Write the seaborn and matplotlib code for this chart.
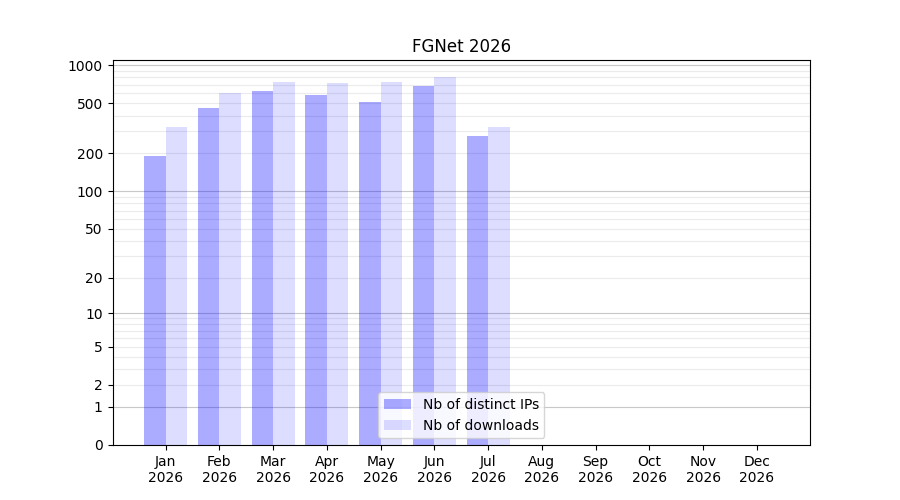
import numpy as np
import pandas as pd
import seaborn as sns
import matplotlib
matplotlib.use("Agg")
import matplotlib.pyplot as plt

# data
months = ["Jan", "Feb", "Mar", "Apr", "May", "Jun", "Jul", "Aug", "Sep", "Oct", "Nov", "Dec"]
year = "2026"
distinct_ips = [191, 459, 625, 582, 512, 685, 276, 0, 0, 0, 0, 0]
downloads = [325, 603, 736, 723, 736, 800, 325, 0, 0, 0, 0, 0]
series_names = ["Nb of distinct IPs", "Nb of downloads"]
ytick_values = [0, 1, 2, 5, 10, 20, 50, 100, 200, 500, 1000]

labels = [m + "\n" + year for m in months]
df = pd.DataFrame({
    "month": labels * 2,
    "value": distinct_ips + downloads,
    "series": [series_names[0]] * 12 + [series_names[1]] * 12,
})

sns.set_style("white")
plt.rcParams["font.family"] = ["DejaVu Sans"]
plt.rcParams["text.color"] = "black"
plt.rcParams["axes.labelcolor"] = "black"
plt.rcParams["xtick.color"] = "black"
plt.rcParams["ytick.color"] = "black"

fig, ax = plt.subplots(figsize=(9, 5), dpi=100)

ax.set_yscale("function", functions=(lambda x: np.log10(1 + np.clip(x, 0, None)),
                                     lambda y: 10 ** y - 1))

sns.barplot(data=df, x="month", y="value", hue="series", palette=["blue", "blue"],
            width=0.8, saturation=1, legend=False, ax=ax, zorder=2)

for cont, a in zip(ax.containers, [0.33, 0.135]):
    for p in cont.patches:
        p.set_alpha(a)
        p.set_edgecolor("none")

# grid: decades darker, the rest lighter
for dec in [1, 10, 100]:
    for k in range(2, 10):
        ax.axhline(dec * k, color="#ebebeb", lw=0.8, zorder=1)
for dec in [1, 10, 100, 1000]:
    ax.axhline(dec, color="#c8c8c8", lw=0.8, zorder=1)

ax.set_ylim(0, 1100)
ax.set_xlim(-0.99, 11.99)
ax.set_yticks(ytick_values)
ax.set_yticklabels([str(v) for v in ytick_values])
ax.yaxis.set_minor_locator(matplotlib.ticker.NullLocator())
ax.tick_params(axis="both", which="major", length=3.5, width=0.8, direction="out",
               left=True, bottom=True, labelsize=10, colors="black")
for s in ax.spines.values():
    s.set_color("black")
    s.set_linewidth(0.8)

ax.set_xlabel("")
ax.set_ylabel("")
ax.set_title("FGNet 2026", fontsize=12, color="black")

ax.legend(ax.containers, series_names, loc="lower center", fontsize=10)

fig.subplots_adjust(left=0.125, right=0.9, top=0.88, bottom=0.11)
fig.savefig("out.png", dpi=100)
